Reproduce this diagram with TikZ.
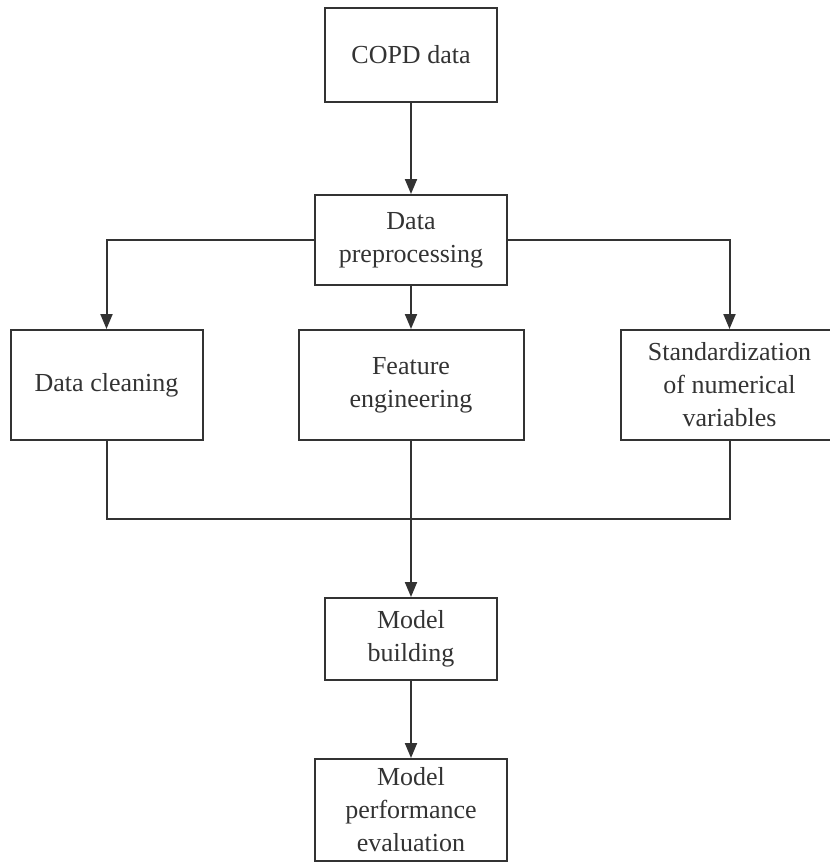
\documentclass[tikz,border=0pt]{standalone}
\usepackage{fontspec}
\setmainfont{Liberation Serif}
\usepackage{xcolor}
\usetikzlibrary{arrows.meta,positioning}

\definecolor{linegray}{HTML}{333333}

\begin{document}
\begin{tikzpicture}[
    x=1pt, y=-1pt,
    box/.style={draw=linegray, line width=2pt, align=center, inner sep=3pt, text=linegray, font=\fontsize{26}{33}\selectfont},
    arrow/.style={-{Triangle[length=15pt, width=12pt]}, line width=2pt, draw=linegray},
    link/.style={line width=2pt, draw=linegray}
]
\useasboundingbox (0,0) rectangle (830,863);

% ===== TOP =====
\node[box, minimum width=172pt, minimum height=94pt] (copd) at (411,55) {COPD data};
\node[box, below=91pt of copd, minimum width=192pt, minimum height=90pt] (prep) {Data\\preprocessing};

% ===== PREPROCESSING STEPS =====
\node[box, below=43pt of prep, minimum width=225pt, minimum height=110pt] (feat) {Feature\\engineering};
\node[box, left=94pt of feat, minimum width=192pt, minimum height=110pt] (clean) {Data cleaning};
\node[box, right=95pt of feat, minimum width=218pt, minimum height=110pt] (std) {Standardization\\of numerical\\variables};

% ===== MODEL =====
\node[box, below=156pt of feat, minimum width=172pt, minimum height=82pt] (model) {Model\\building};
\node[box, below=77pt of model, minimum width=192pt, minimum height=102pt] (eval) {Model\\performance\\evaluation};

\coordinate[below=78pt of feat.south] (join);

\draw[arrow] (copd) -- (prep);
\draw[arrow] (prep.west) -| (clean.north);
\draw[arrow] (prep) -- (feat);
\draw[arrow] (prep.east) -| (std.north);
\draw[link] (clean.south) |- (join) -| (std.south);
\draw[arrow] (feat) -- (model);
\draw[arrow] (model) -- (eval);

\end{tikzpicture}
\end{document}
